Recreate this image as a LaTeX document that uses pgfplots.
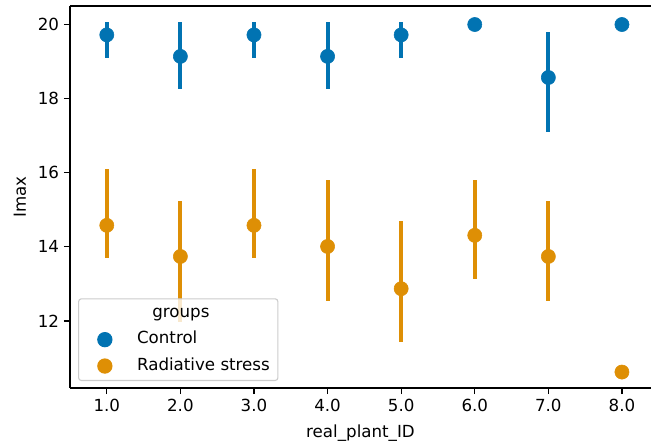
\documentclass[border=0pt]{standalone}
\usepackage{pgfplots}
\pgfplotsset{compat=1.18}
\usepackage{pgfplotstable}
\usepackage{fontspec}
\setmainfont{DejaVu Sans}
\definecolor{cblue}{HTML}{0173B2}
\definecolor{corange}{HTML}{DE8F05}

\pgfplotstableread{
x y ep em
1 19.72 0.34 0.62
2 19.14 0.92 0.88
3 19.72 0.34 0.62
4 19.14 0.92 0.88
5 19.72 0.34 0.62
6 20.00 0 0
7 18.57 1.22 1.46
8 20.00 0 0
}\control

\pgfplotstableread{
x y ep em
1 14.58 1.51 0.89
2 13.74 1.49 1.77
3 14.58 1.51 0.89
4 14.01 1.79 1.46
5 12.87 1.82 1.45
6 14.31 1.49 1.18
7 13.74 1.49 1.19
8 10.62 0 0
}\radiative

\begin{document}
\begin{tikzpicture}
\begin{axis}[
  scale only axis,
  width=418.32pt, height=275.04pt,
  xmin=0.5, xmax=8.395,
  ymin=10.19, ymax=20.5,
  axis x line=box,
  axis y line*=left,
  xtick pos=left, ytick pos=left,
  axis line style={line width=0.9pt, black},
  tick align=outside,
  major tick length=4.4pt,
  tick style={line width=0.9pt, black},
  xtick={1,2,3,4,5,6,7,8},
  xticklabels={1.0,2.0,3.0,4.0,5.0,6.0,7.0,8.0},
  ytick={12,14,16,18,20},
  x tick label style={font=\fontsize{12}{14}\selectfont},
  y tick label style={font=\fontsize{12}{14}\selectfont},
  /pgf/number format/assume math mode=true,
  xlabel={real\_plant\_ID},
  ylabel={Imax},
  label style={font=\fontsize{12}{14}\selectfont},
  xlabel style={at={(axis description cs:0.5,-0.1178)}, anchor=center},
  ylabel style={at={(axis description cs:-0.0861,0.5)}, anchor=center},
  legend cell align=left,
  legend style={
    at={(axis description cs:0,0)}, anchor=south west,
    xshift=5.8pt, yshift=5pt,
    draw=black!20, line width=0.8pt, rounded corners=2pt,
    fill=white, fill opacity=0.8, text opacity=1, draw opacity=1,
    inner xsep=5.8pt, inner ysep=4.4pt,
    row sep=7pt, column sep=0pt,
    font=\fontsize{12}{14}\selectfont,
    nodes={inner sep=0pt, text height=9pt, text depth=3pt},
  },
  legend image code/.code={%
    \path (0pt,0pt) (35.5pt,0pt);
    \draw[#1, fill opacity=1, draw opacity=1] plot coordinates {(12.7pt,0pt)};
  },
]
\addlegendimage{empty legend}
\addlegendentry{\hspace{11pt}groups}

\addplot[only marks, mark=*, mark size=5.1pt, color=cblue, mark options={draw=none, fill=cblue},
  error bars/.cd, y dir=both, y explicit, error mark=none,
  error bar style={line width=2.9pt, cblue}]
  table[x=x, y=y, y error plus=ep, y error minus=em] {\control};
\addlegendentry{Control}

\addplot[only marks, mark=*, mark size=5.1pt, color=corange, mark options={draw=none, fill=corange},
  error bars/.cd, y dir=both, y explicit, error mark=none,
  error bar style={line width=2.9pt, corange}]
  table[x=x, y=y, y error plus=ep, y error minus=em] {\radiative};
\addlegendentry{Radiative stress}
\end{axis}
\pgfresetboundingbox
\path (-50.4pt,-41.04pt) rectangle (418.32pt,279.36pt);
\end{tikzpicture}
\end{document}
